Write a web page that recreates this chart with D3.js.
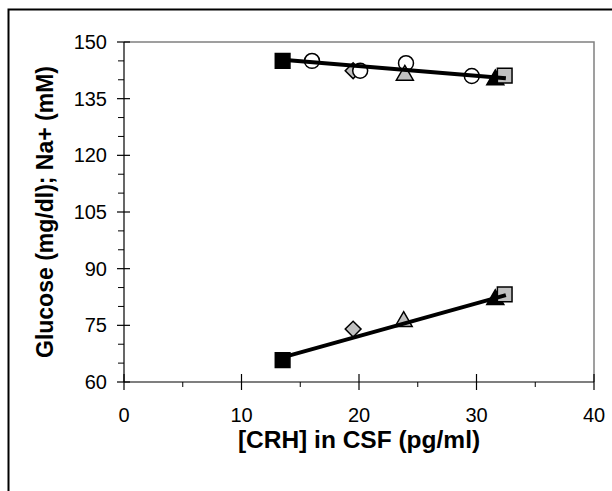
<!DOCTYPE html>
<html><head><meta charset="utf-8">
<script src="https://cdn.jsdelivr.net/npm/d3@7"></script>
<style>body{margin:0;background:#fff}svg{display:block}</style>
</head><body>
<svg id="c" width="612" height="491"></svg>
<script>
// Data
const xTicks = [0, 10, 20, 30, 40];
const yTicks = [60, 75, 90, 105, 120, 135, 150];
// Na+ (mM) points
const naX = [13.5, 16.0, 19.5, 20.1, 24.0, 23.9, 29.6, 31.6, 32.4];
const naY = [145.0, 145.0, 142.4, 142.4, 144.4, 141.2, 141.0, 140.0, 141.1];
const naGroup = ["A", "B", "C", "B", "B", "D", "B", "E", "F"];
// Glucose (mg/dl) points
const gluX = [13.5, 19.5, 23.8, 31.6, 32.4];
const gluY = [65.8, 74.0, 76.0, 81.8, 83.2];
const gluGroup = ["A", "C", "D", "E", "F"];
// Trend lines (endpoints of fitted lines)
const naFitX = [13.5, 32.5];
const naFitY = [145.3, 140.4];
const gluFitX = [13.5, 32.5];
const gluFitY = [66.5, 83.0];

const svg = d3.select("#c");
const L = 124, R = 594, T = 42, B = 382;
const x = d3.scaleLinear().domain([0, 40]).range([L, R]);
const y = d3.scaleLinear().domain([60, 150]).range([B, T]);

// Outer frame
svg.append("rect").attr("x", 8.5).attr("y", 9.5).attr("width", 640).attr("height", 520)
  .attr("fill", "none").attr("stroke", "#000").attr("stroke-width", 2);

// Plot border (gray)
svg.append("path").attr("d", `M${L},${T}H${R}V${B}`).attr("fill", "none")
  .attr("stroke", "#808080").attr("stroke-width", 1.5);

// Y axis
const yAxis = svg.append("g");
yAxis.append("line").attr("x1", L).attr("x2", L).attr("y1", T).attr("y2", B).attr("stroke", "#000").attr("stroke-width", 1.2);
const yMinor = d3.range(60, 151, 5).filter(v => v % 15 !== 0);
yAxis.selectAll(".ymin").data(yMinor).join("line")
  .attr("x1", L - 6).attr("x2", L).attr("y1", d => y(d)).attr("y2", d => y(d)).attr("stroke", "#000").attr("stroke-width", 1);
yAxis.selectAll(".ymaj").data(yTicks).join("line")
  .attr("x1", L - 7).attr("x2", L + 6).attr("y1", d => y(d)).attr("y2", d => y(d)).attr("stroke", "#000").attr("stroke-width", 1.2);
yAxis.selectAll(".ylab").data(yTicks).join("text")
  .attr("x", 107).attr("y", d => y(d)).attr("dy", "0.35em").attr("text-anchor", "end")
  .attr("font-family", "Liberation Sans, Arial, sans-serif").attr("font-size", 20).text(d => d);

// X axis
const xAxis = svg.append("g");
xAxis.append("line").attr("x1", L).attr("x2", R).attr("y1", B).attr("y2", B).attr("stroke", "#000").attr("stroke-width", 1.2);
const xMinor = [5, 15, 25, 35];
xAxis.selectAll(".xmin").data(xMinor).join("line")
  .attr("x1", d => x(d)).attr("x2", d => x(d)).attr("y1", B).attr("y2", B + 5).attr("stroke", "#000").attr("stroke-width", 1);
xAxis.selectAll(".xmaj").data(xTicks).join("line")
  .attr("x1", d => x(d)).attr("x2", d => x(d)).attr("y1", B - 8).attr("y2", B + 8).attr("stroke", "#000").attr("stroke-width", 1.2);
xAxis.selectAll(".xlab").data(xTicks).join("text")
  .attr("x", d => x(d)).attr("y", 422).attr("text-anchor", "middle")
  .attr("font-family", "Liberation Sans, Arial, sans-serif").attr("font-size", 20).text(d => d);

// Axis titles
svg.append("text").attr("x", 359).attr("y", 448).attr("text-anchor", "middle")
  .attr("font-family", "Liberation Sans, Arial, sans-serif").attr("font-weight", "bold").attr("font-size", 24.5)
  .text("[CRH] in CSF (pg/ml)");
svg.append("text").attr("transform", `translate(53,${(T + B) / 2}) rotate(-90)`).attr("text-anchor", "middle")
  .attr("font-family", "Liberation Sans, Arial, sans-serif").attr("font-weight", "bold").attr("font-size", 23)
  .text("Glucose (mg/dl); Na+ (mM)");

// Marker styles
const style = {
  A: {type: "square", fill: "#000"},
  B: {type: "circle", fill: "#fff"},
  C: {type: "diamond", fill: "#c0c0c0"},
  D: {type: "triangle", fill: "#c0c0c0"},
  E: {type: "triangle", fill: "#000"},
  F: {type: "square", fill: "#c0c0c0"}
};
function markerPath(t) {
  if (t === "square") return d3.symbol(d3.symbolSquare, 215)();
  if (t === "circle") return d3.symbol(d3.symbolCircle, 175)();
  if (t === "triangle") return d3.symbol(d3.symbolTriangle, 125)();
  if (t === "diamond") return d3.symbol(d3.symbolSquare, 125)();
}
function drawPoints(xs, ys, gs) {
  const pts = xs.map((v, i) => ({x: v, y: ys[i], g: gs[i]}));
  svg.append("g").selectAll("path").data(pts).join("path")
    .attr("d", d => markerPath(style[d.g].type))
    .attr("transform", d => `translate(${x(d.x)},${y(d.y)})` + (style[d.g].type === "diamond" ? " rotate(45)" : ""))
    .attr("fill", d => style[d.g].fill)
    .attr("stroke", "#000").attr("stroke-width", 1.5);
}
drawPoints(naX, naY, naGroup);
drawPoints(gluX, gluY, gluGroup);

// Fit lines
const line = d3.line().x(d => x(d[0])).y(d => y(d[1]));
svg.append("path").attr("d", line(naFitX.map((v, i) => [v, naFitY[i]])))
  .attr("stroke", "#000").attr("stroke-width", 4).attr("fill", "none");
svg.append("path").attr("d", line(gluFitX.map((v, i) => [v, gluFitY[i]])))
  .attr("stroke", "#000").attr("stroke-width", 4).attr("fill", "none");
</script>
</body></html>
